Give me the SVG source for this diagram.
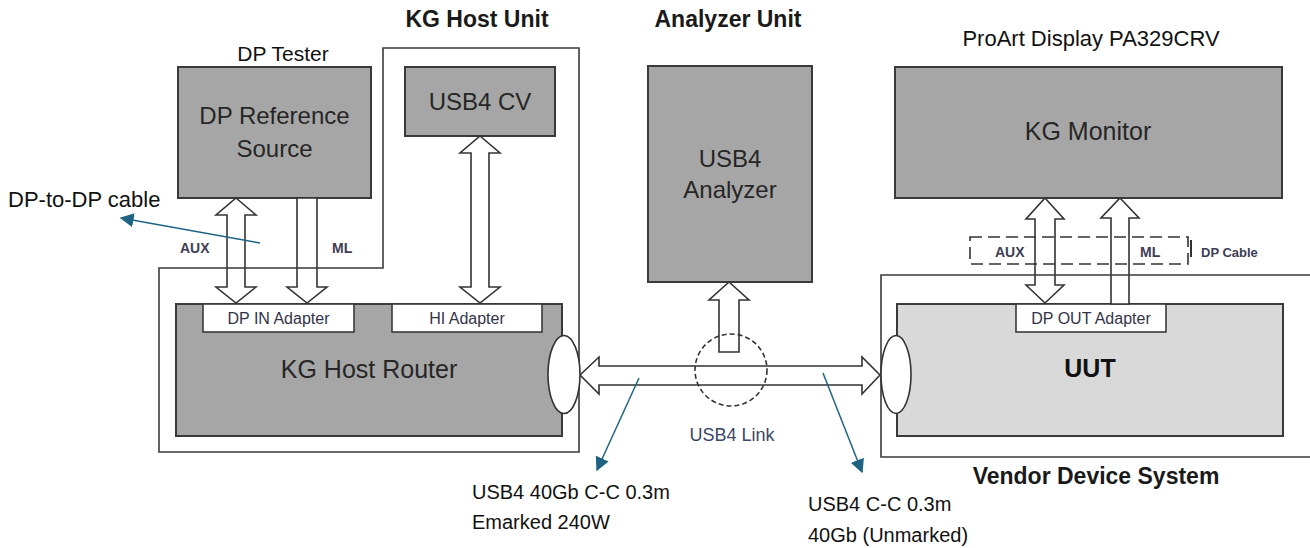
<svg xmlns="http://www.w3.org/2000/svg" width="1310" height="548" viewBox="0 0 1310 548">
<defs>
<style>
.box{fill:#a6a6a6;stroke:#3a3a3a;stroke-width:2}
.uut{fill:#d9d9d9;stroke:#3a3a3a;stroke-width:2}
.adp{fill:#ffffff;stroke:#3a3a3a;stroke-width:1.6}
.outline{fill:none;stroke:#3a3a3a;stroke-width:1.6}
.arrow{fill:#ffffff;stroke:#333333;stroke-width:1.6;stroke-linejoin:miter}
.dash{fill:none;stroke:#333333;stroke-width:1.6;stroke-dasharray:12 6}
.dashc{fill:none;stroke:#333333;stroke-width:1.6;stroke-dasharray:5 3}
.ell{fill:#ffffff;stroke:#333333;stroke-width:1.6}
.note{stroke:#1e6384;stroke-width:1.5;fill:none}
.bt{font-family:"Liberation Sans",Arial,sans-serif;font-size:24px;fill:#262626;text-anchor:middle}
.at{font-family:"Liberation Sans",Arial,sans-serif;font-size:16px;fill:#333348;text-anchor:middle}
.sl{font-family:"Liberation Sans",Arial,sans-serif;font-size:14px;font-weight:bold;fill:#3d3d55}
.hd{font-family:"Liberation Sans",Arial,sans-serif;font-size:23px;font-weight:bold;fill:#1a1a1a;text-anchor:middle}
.an{font-family:"Liberation Sans",Arial,sans-serif;font-size:21px;fill:#111111}
</style>
<marker id="bh" viewBox="0 0 10 10" refX="9" refY="5" markerWidth="14" markerHeight="14" markerUnits="userSpaceOnUse" orient="auto">
<path d="M0,0 L10,5 L0,10 Z" fill="#1e6384"/>
</marker>
</defs>
<rect width="1310" height="548" fill="#ffffff"/>

<g id="dp-reference-source">
<rect class="box" x="178" y="67" width="193" height="131"/>
<text class="bt" x="274.5" y="124">DP Reference</text>
<text class="bt" x="274.5" y="157">Source</text>
</g>
<g id="usb4-cv">
<rect class="box" x="405" y="67" width="150" height="69"/>
<text class="bt" x="480" y="110">USB4 CV</text>
</g>
<g id="kg-host-router">
<rect class="box" x="176" y="304" width="386" height="132"/>
<text class="bt" x="369" y="378" style="font-size:25px">KG Host Router</text>
</g>
<g id="dp-in-adapter">
<rect class="adp" x="203" y="304" width="151" height="28"/>
<text class="at" x="278.5" y="324">DP IN Adapter</text>
</g>
<g id="hi-adapter">
<rect class="adp" x="392" y="304" width="150" height="28"/>
<text class="at" x="467" y="324">HI Adapter</text>
</g>
<g id="usb4-analyzer">
<rect class="box" x="648" y="66" width="164" height="216"/>
<text class="bt" x="730" y="167">USB4</text>
<text class="bt" x="730" y="198">Analyzer</text>
</g>
<g id="kg-monitor">
<rect class="box" x="895" y="67" width="387" height="131"/>
<text class="bt" x="1088" y="140" style="font-size:25px">KG Monitor</text>
</g>
<g id="uut">
<rect class="uut" x="897" y="304" width="386" height="132"/>
<text class="bt" x="1090" y="377" style="font-size:25px;font-weight:bold;fill:#111">UUT</text>
</g>
<g id="dp-out-adapter">
<rect class="adp" x="1016" y="304" width="150" height="28"/>
<text class="at" x="1091" y="324">DP OUT Adapter</text>
</g>

<g id="connectors">
<path class="arrow" d="M236,198 L256,215 L245,215 L245,287 L256,287 L236,303 L216,287 L227,287 L227,215 L216,215 Z"/>
<path class="arrow" d="M297,198 L317,198 L317,287 L327,287 L307,303 L287,287 L297,287 Z"/>
<path class="arrow" d="M480,136 L500,153 L489,153 L489,287 L500,287 L480,303 L460,287 L471,287 L471,153 L460,153 Z"/>
<path class="arrow" d="M729,282 L749,300 L739,300 L739,352 L719,352 L719,300 L709,300 Z"/>
<path class="arrow" d="M580,375 L599,357 L599,366 L862,366 L862,357 L880,375 L862,394 L862,385 L599,385 L599,394 Z"/>
<path class="arrow" d="M1045,198 L1064,219 L1055,219 L1055,285 L1064,285 L1045,303 L1026,285 L1035,285 L1035,219 L1026,219 Z"/>
<path class="arrow" d="M1120,198 L1139,218 L1129,218 L1129,304 L1111,304 L1111,218 L1101,218 Z"/>
<line class="note" x1="260" y1="243" x2="121" y2="218" marker-end="url(#bh)"/>
<line class="note" x1="639" y1="378" x2="597" y2="470" marker-end="url(#bh)"/>
<line class="note" x1="823" y1="373" x2="862" y2="472" marker-end="url(#bh)"/>
</g>

<g id="kg-host-unit">
<path class="outline" d="M383,48 L579,48 L579,452 L159,452 L159,268 L383,268 Z"/>
<text class="hd" x="477" y="27">KG Host Unit</text>
</g>
<g id="vendor-device-system">
<path class="outline" d="M1312,275 L881,275 L881,457 L1312,457"/>
<text class="hd" x="1096" y="484">Vendor Device System</text>
</g>
<g id="dp-cable">
<rect class="dash" x="970" y="237" width="218" height="27"/>
<line x1="1191" y1="240" x2="1191" y2="257" stroke="#333" stroke-width="2"/>
<text class="sl" x="1201" y="257" style="font-size:13px">DP Cable</text>
<text class="sl" x="995" y="257">AUX</text>
<text class="sl" x="1140" y="257">ML</text>
</g>
<g id="usb4-link">
<circle class="dashc" cx="731" cy="370" r="36"/>
<text x="732" y="441" style="font-family:'Liberation Sans',Arial,sans-serif;font-size:18px;fill:#3b4766;text-anchor:middle">USB4 Link</text>
</g>
<g id="ports">
<ellipse class="ell" cx="564" cy="374.5" rx="16" ry="39"/>
<ellipse class="ell" cx="896" cy="374.5" rx="15" ry="39"/>
</g>

<g id="labels">
<text class="sl" x="180" y="253">AUX</text>
<text class="sl" x="332" y="253">ML</text>
<text class="an" x="283" y="61" text-anchor="middle">DP Tester</text>
<text class="an" x="8" y="207" style="font-size:22px">DP-to-DP cable</text>
<text class="an" x="1091" y="46" text-anchor="middle" style="font-size:22px">ProArt Display PA329CRV</text>
<text class="hd" x="728" y="27">Analyzer Unit</text>
<text class="an" x="472" y="499" style="font-size:20px">USB4 40Gb C-C 0.3m</text>
<text class="an" x="472" y="529" style="font-size:20px">Emarked 240W</text>
<text class="an" x="808" y="511" style="font-size:20px">USB4 C-C 0.3m</text>
<text class="an" x="808" y="542" style="font-size:20px">40Gb (Unmarked)</text>
</g>
</svg>
